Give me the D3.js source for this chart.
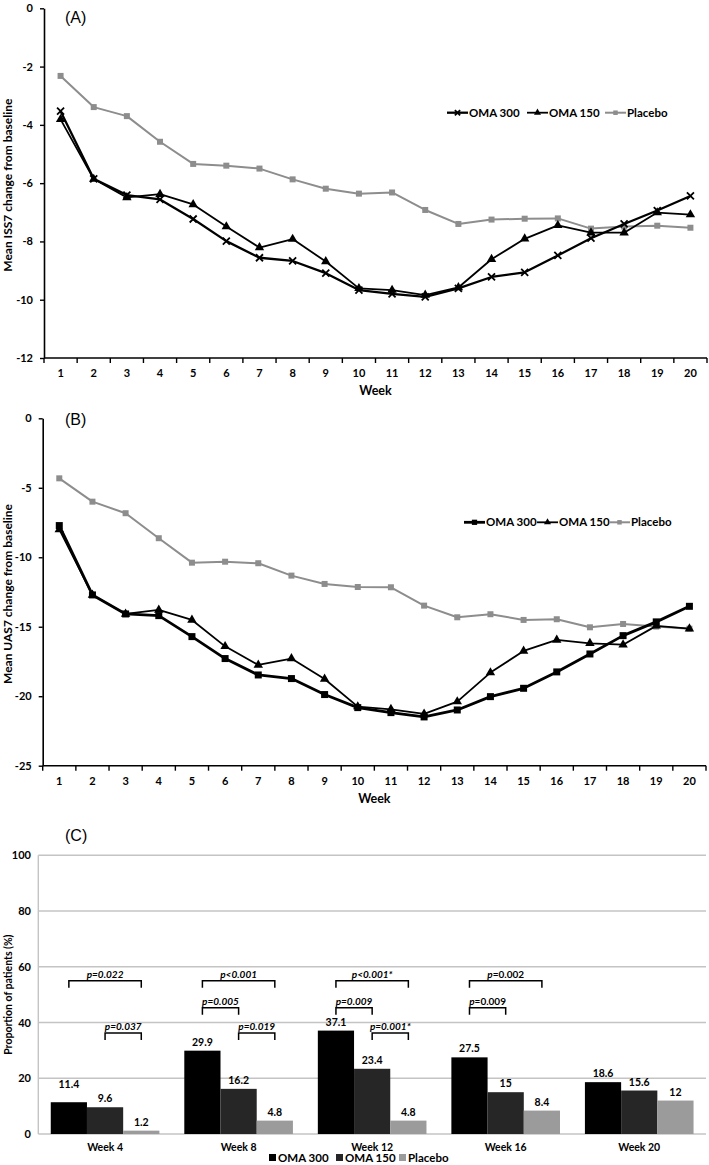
<!DOCTYPE html>
<html><head><meta charset="utf-8">
<script src="https://cdn.jsdelivr.net/npm/d3@7"></script>
<style>
body{margin:0;background:#fff}
text{font-family:Lato,"Liberation Sans",Arial,sans-serif;font-weight:bold;fill:#000}
</style>
</head><body><svg id="chart" width="709" height="1165"></svg>
<script>
// ---------- DATA ----------
const weeks = [1,2,3,4,5,6,7,8,9,10,11,12,13,14,15,16,17,18,19,20];
const seriesNames = ["OMA 300","OMA 150","Placebo"];

// Panel A: Mean ISS7 change from baseline
const issOma300  = [-3.53,-5.85,-6.41,-6.56,-7.23,-7.99,-8.56,-8.67,-9.09,-9.67,-9.80,-9.90,-9.61,-9.22,-9.06,-8.48,-7.89,-7.40,-6.94,-6.44];
const issOma150  = [-3.81,-5.86,-6.49,-6.38,-6.73,-7.49,-8.21,-7.92,-8.69,-9.61,-9.67,-9.84,-9.58,-8.61,-7.91,-7.45,-7.70,-7.70,-7.01,-7.08];
const issPlacebo = [-2.32,-3.39,-3.70,-4.58,-5.34,-5.40,-5.50,-5.87,-6.19,-6.36,-6.32,-6.92,-7.40,-7.25,-7.22,-7.21,-7.56,-7.49,-7.46,-7.53];
const issTicks = [0,-2,-4,-6,-8,-10,-12];

// Panel B: Mean UAS7 change from baseline
const uasOma300  = [-7.72,-12.71,-14.08,-14.20,-15.71,-17.29,-18.47,-18.73,-19.88,-20.82,-21.18,-21.49,-20.99,-20.03,-19.43,-18.25,-16.96,-15.64,-14.65,-13.53];
const uasOma150  = [-8.00,-12.71,-14.08,-13.79,-14.51,-16.41,-17.75,-17.29,-18.76,-20.75,-20.94,-21.27,-20.39,-18.30,-16.74,-15.95,-16.19,-16.29,-14.94,-15.14];
const uasPlacebo = [-4.32,-6.00,-6.83,-8.63,-10.39,-10.32,-10.43,-11.32,-11.92,-12.14,-12.16,-13.48,-14.32,-14.10,-14.51,-14.46,-15.04,-14.80,-14.99,-15.14];
const uasTicks = [0,-5,-10,-15,-20,-25];

// Panel C: Proportion of patients (%)
const barWeeks   = ["Week 4","Week 8","Week 12","Week 16","Week 20"];
const barOma300  = [11.4,29.9,37.1,27.5,18.6];
const barOma150  = [9.6,16.2,23.4,15,15.6];
const barPlacebo = [1.2,4.8,4.8,8.4,12];
const propTicks  = [0,20,40,60,80,100];
const compWeeks  = ["Week 4","Week 4","Week 8","Week 8","Week 8","Week 12","Week 12","Week 12","Week 16","Week 16"];
const compFrom   = ["OMA 300","OMA 150","OMA 300","OMA 300","OMA 150","OMA 300","OMA 300","OMA 150","OMA 300","OMA 300"];
const compTo     = ["Placebo","Placebo","Placebo","OMA 150","Placebo","Placebo","OMA 150","Placebo","Placebo","OMA 150"];
const compLevel  = [55,36.2,55,45.3,36.2,55,45.3,36.2,55,45.3];
const compText   = ["=0.022","=0.037","<0.001","=0.005","=0.019","<0.001*","=0.009","=0.001*","=0.002","=0.009"];
const compItalic = [true,true,true,true,true,true,true,true,false,false];

// ---------- DRAW ----------
const svg = d3.select("#chart");
const PLACEBO_GREY = "#8d8d8d";

function marker(sel, type, size, color){
  if(type==="cross"){
    const h=size/2;
    sel.append("path").attr("d",`M${-h},${-h}L${h},${h}M${-h},${h}L${h},${-h}`)
      .attr("stroke",color).attr("stroke-width",1.8).attr("fill","none");
  } else {
    const sym = type==="triangle"?d3.symbolTriangle:d3.symbolSquare;
    sel.append("path").attr("d",d3.symbol().type(sym).size(size*size*(type==="triangle"?0.6:1))())
      .attr("fill",color);
  }
}

function linePanel(o){
  const g = svg.append("g");
  const x = d3.scaleBand().domain(weeks).range([o.x0,o.x1]);
  const bw = x.bandwidth();
  const y = d3.scaleLinear().domain([d3.min(o.ticks),0]).range([o.yBottom,o.yTop]);

  // y axis
  const ya = g.append("g").attr("transform",`translate(${o.x0},0)`)
    .call(d3.axisLeft(y).tickValues(o.ticks).tickSize(4).tickSizeOuter(0).tickPadding(7).tickFormat(d=>String(d)));
  ya.select(".domain").attr("stroke","#000").attr("stroke-width",1.6);
  ya.selectAll(".tick line").attr("stroke","#000").attr("stroke-width",1.4);
  ya.selectAll(".tick text").style("font-size","11px").style("font-family","Lato,sans-serif").style("font-weight","bold");

  // x axis (category axis with ticks at band boundaries)
  g.append("line").attr("x1",o.x0).attr("x2",o.x1).attr("y1",o.yBottom).attr("y2",o.yBottom)
    .attr("stroke","#000").attr("stroke-width",1.6);
  const bounds = weeks.map(w=>x(w)).concat([o.x1]);
  g.selectAll("line.xt").data(bounds).enter().append("line")
    .attr("x1",d=>d).attr("x2",d=>d).attr("y1",o.yBottom).attr("y2",o.yBottom+5)
    .attr("stroke","#000").attr("stroke-width",1.4);
  g.selectAll("text.xl").data(weeks).enter().append("text")
    .attr("x",d=>x(d)+bw/2).attr("y",o.labelY).attr("text-anchor","middle")
    .style("font-size","11px").text(d=>d);
  g.append("text").attr("x",(o.x0+o.x1)/2).attr("y",o.labelY+18).attr("text-anchor","middle")
    .style("font-size","12.5px").text("Week");

  // y title
  g.append("text").attr("transform",`translate(${o.titleX},${(o.yTop+o.yBottom)/2+2}) rotate(-90)`)
    .attr("text-anchor","middle").style("font-size","12px").text(o.yTitle);

  // panel letter
  g.append("text").attr("x",65).attr("y",o.letterY).style("font-size","16px")
    .style("font-weight","normal").style("font-family","'Liberation Sans',Arial,sans-serif").text(o.letter);

  // series
  const line = d3.line().x((d,i)=>x(weeks[i])+bw/2).y(d=>y(d));
  o.series.slice().reverse().forEach(s=>{
    g.append("path").datum(s.values).attr("d",line).attr("fill","none")
      .attr("stroke",s.color).attr("stroke-width",s.width).attr("stroke-linejoin","round");
    s.values.forEach((v,i)=>{
      const m = g.append("g").attr("transform",`translate(${x(weeks[i])+bw/2},${y(v)})`);
      marker(m,s.marker,s.msize,s.color);
    });
  });

  // legend
  o.series.forEach((s,i)=>{
    const lx = o.legendX[i];
    g.append("line").attr("x1",lx).attr("x2",lx+21).attr("y1",o.legendY).attr("y2",o.legendY)
      .attr("stroke",s.color).attr("stroke-width",s.width);
    const m = g.append("g").attr("transform",`translate(${lx+10.5},${o.legendY})`);
    marker(m,s.marker,s.msize*0.75,s.color);
    g.append("text").attr("x",lx+22).attr("y",o.legendY+4).style("font-size","11.5px").text(seriesNames[i]);
  });
}

linePanel({
  x0:44, x1:707, yTop:8.3, yBottom:358, ticks:issTicks, labelY:377, titleX:12,
  yTitle:"Mean ISS7 change from baseline", letter:"(A)", letterY:23,
  legendX:[447,527,605], legendY:112.7,
  series:[
    {values:issOma300, color:"#000", width:2.3, marker:"cross", msize:7},
    {values:issOma150, color:"#000", width:1.8, marker:"triangle", msize:8},
    {values:issPlacebo, color:PLACEBO_GREY, width:2, marker:"square", msize:6}
  ]
});

linePanel({
  x0:42.7, x1:706, yTop:418.3, yBottom:765.7, ticks:uasTicks, labelY:785, titleX:12,
  yTitle:"Mean UAS7 change from baseline", letter:"(B)", letterY:425,
  legendX:[464,537,609], legendY:522.3,
  series:[
    {values:uasOma300, color:"#000", width:2.8, marker:"square", msize:7},
    {values:uasOma150, color:"#000", width:1.8, marker:"triangle", msize:8},
    {values:uasPlacebo, color:PLACEBO_GREY, width:2, marker:"square", msize:6}
  ]
});

// ---------- Panel C ----------
(function(){
  const g = svg.append("g");
  const x0 = d3.scaleBand().domain(barWeeks).range([38.3,706]);
  const x1 = d3.scaleBand().domain(seriesNames).range([0,x0.bandwidth()]).paddingInner(0).paddingOuter(0.344);
  const y = d3.scaleLinear().domain([0,100]).range([1134,855.3]);
  const colors = {"OMA 300":"#000000","OMA 150":"#262626","Placebo":"#9b9b9b"};
  const vals = {"OMA 300":barOma300,"OMA 150":barOma150,"Placebo":barPlacebo};

  // gridlines
  g.selectAll("line.grid").data(propTicks).enter().append("line")
    .attr("x1",38.3).attr("x2",706).attr("y1",d=>y(d)).attr("y2",d=>y(d))
    .attr("stroke","#c4c4c4").attr("stroke-width",1.4);
  g.append("line").attr("x1",38.3).attr("x2",38.3).attr("y1",y(100)).attr("y2",y(0))
    .attr("stroke","#c4c4c4").attr("stroke-width",1.4);
  g.selectAll("text.yl").data(propTicks).enter().append("text")
    .attr("x",31).attr("y",d=>y(d)+4).attr("text-anchor","end").style("font-size","11px").text(d=>d);

  g.append("text").attr("transform",`translate(12,${(y(0)+y(100))/2}) rotate(-90)`)
    .attr("text-anchor","middle").style("font-size","10.5px").text("Proportion of patients (%)");

  g.append("text").attr("x",65).attr("y",841).style("font-size","16px")
    .style("font-weight","normal").style("font-family","'Liberation Sans',Arial,sans-serif").text("(C)");

  const extraLift = {"Week 4|OMA 300":9};
  barWeeks.forEach((w,wi)=>{
    seriesNames.forEach(s=>{
      const v = vals[s][wi];
      const bx = x0(w)+x1(s);
      g.append("rect").attr("x",bx).attr("y",y(v)).attr("width",x1.bandwidth()).attr("height",y(0)-y(v))
        .attr("fill",colors[s]);
      g.append("text").attr("x",bx+x1.bandwidth()/2).attr("y",y(v)-5-(extraLift[w+"|"+s]||0))
        .attr("text-anchor","middle").style("font-size","10.5px").text(v);
    });
    g.append("text").attr("x",x0(w)+x0.bandwidth()/2).attr("y",1151).attr("text-anchor","middle")
      .style("font-size","10.5px").text(w);
  });

  // significance brackets
  compWeeks.forEach((w,i)=>{
    const xa = x0(w)+x1(compFrom[i])+x1.bandwidth()/2;
    const xb = x0(w)+x1(compTo[i])+x1.bandwidth()/2;
    const yl = y(compLevel[i]);
    g.append("path").attr("d",`M${xa},${yl+7}V${yl}H${xb}V${yl+7}`)
      .attr("fill","none").attr("stroke","#000").attr("stroke-width",1.5);
    const t = g.append("text").attr("x",(xa+xb)/2).attr("y",yl-3).attr("text-anchor","middle")
      .style("font-size","10px");
    t.append("tspan").style("font-style","italic").text("p");
    t.append("tspan").style("font-style",compItalic[i]?"italic":"normal").text(compText[i]);
  });

  // legend
  const legX = [269,336,399];
  seriesNames.forEach((s,i)=>{
    g.append("rect").attr("x",legX[i]).attr("y",1154).attr("width",7).attr("height",7).attr("fill",colors[s]);
    g.append("text").attr("x",legX[i]+9).attr("y",1162).style("font-size","11.5px").text(s);
  });
})();
</script>
</body></html>
